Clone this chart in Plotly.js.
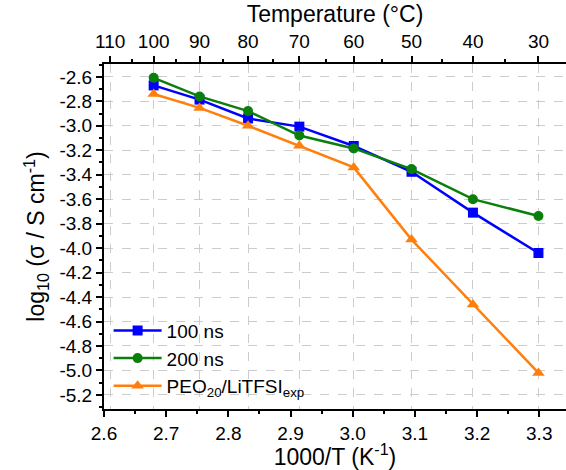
<!DOCTYPE html>
<html>
<head>
<meta charset="utf-8">
<script src="https://cdn.plot.ly/plotly-3.0.1.min.js"></script>
<style>html,body{margin:0;padding:0;background:#fff;}#chart{width:566px;height:470px;}</style>
</head>
<body>
<div id="chart"></div>
<script>
// Data
const temperaturesC = [100, 90, 80, 70, 60, 50, 40, 30];
const sim100ns = [-2.67, -2.786, -2.94, -3.007, -3.165, -3.376, -3.71, -4.04];
const sim200ns = [-2.608, -2.76, -2.88, -3.08, -3.185, -3.354, -3.60, -3.737];
const peoExp = [-2.74, -2.854, -3.0, -3.163, -3.34, -3.93, -4.46, -5.02];
const topTickTemps = [110, 100, 90, 80, 70, 60, 50, 40, 30];
const topMinorTemps = [105, 95, 85, 75, 65, 55, 45, 35];

const invT = t => 1000 / (t + 273.15);
const xVals = temperaturesC.map(invT);

const font = 'Liberation Sans, Arial, sans-serif';
const xRange = [2.6, 3.343];

const traces = [
  {x: xVals, y: sim100ns, name: '100 ns', mode: 'lines+markers',
   line: {color: '#0000ff', width: 2.5}, marker: {symbol: 'square', size: 10, color: '#0000ff'}},
  {x: xVals, y: sim200ns, name: '200 ns', mode: 'lines+markers',
   line: {color: '#0a800a', width: 2.5}, marker: {symbol: 'circle', size: 10, color: '#0a800a'}},
  {x: xVals, y: peoExp, name: 'PEO<sub>20</sub>/LiTFSI<sub>exp</sub>', mode: 'lines+markers',
   line: {color: '#ff7f0e', width: 2.5}, marker: {symbol: 'triangle-up', size: 11, color: '#ff7f0e'}},
  {x: [xRange[0]], y: [null], xaxis: 'x2', showlegend: false, hoverinfo: 'skip', mode: 'markers'}
];

const layout = {
  width: 566, height: 470,
  margin: {l: 104, r: 0, t: 64, b: 61},
  paper_bgcolor: '#fff', plot_bgcolor: '#fff',
  font: {family: font, size: 19, color: '#000'},
  showlegend: true,
  legend: {x: 0.01, y: 0.01, xanchor: 'left', yanchor: 'bottom', bgcolor: 'rgba(0,0,0,0)',
           font: {size: 19, family: font}, tracegroupgap: 0, itemwidth: 48},
  xaxis: {
    range: xRange, tickmode: 'array', tickvals: [2.6, 2.7, 2.8, 2.9, 3.0, 3.1, 3.2, 3.3],
    ticktext: ['2.6', '2.7', '2.8', '2.9', '3.0', '3.1', '3.2', '3.3'],
    ticks: 'outside', ticklen: 6, tickwidth: 2, tickcolor: '#000',
    minor: {tickmode: 'array', tickvals: [2.65, 2.75, 2.85, 2.95, 3.05, 3.15, 3.25], ticks: 'outside', ticklen: 3, tickwidth: 2, tickcolor: '#000'},
    showline: true, linewidth: 2, linecolor: '#000', showgrid: false, zeroline: false,
    title: {text: '1000/T (K<sup>-1</sup>)', font: {size: 23, family: font}, standoff: 2},
    tickfont: {size: 19, family: font}
  },
  xaxis2: {
    overlaying: 'x', side: 'top', range: xRange, tickmode: 'array',
    tickvals: topTickTemps.map(invT), ticktext: topTickTemps.map(String),
    ticks: 'outside', ticklen: 6, tickwidth: 2, tickcolor: '#000',
    minor: {tickmode: 'array', tickvals: topMinorTemps.map(invT), ticks: 'outside', ticklen: 3, tickwidth: 2, tickcolor: '#000'},
    showline: true, linewidth: 2, linecolor: '#000',
    showgrid: true, gridcolor: '#cccccc', griddash: 'dash', gridwidth: 1, zeroline: false,
    title: {text: 'Temperature (°C)', font: {size: 23, family: font}, standoff: 2},
    tickfont: {size: 19, family: font}
  },
  yaxis: {
    range: [-5.315, -2.495], tickmode: 'array',
    tickvals: [-2.6, -2.8, -3.0, -3.2, -3.4, -3.6, -3.8, -4.0, -4.2, -4.4, -4.6, -4.8, -5.0, -5.2],
    ticktext: ['-2.6', '-2.8', '-3.0', '-3.2', '-3.4', '-3.6', '-3.8', '-4.0', '-4.2', '-4.4', '-4.6', '-4.8', '-5.0', '-5.2'],
    ticks: 'outside', ticklen: 6, tickwidth: 2, tickcolor: '#000',
    minor: {tickmode: 'array', tickvals: [-2.5, -2.7, -2.9, -3.1, -3.3, -3.5, -3.7, -3.9, -4.1, -4.3, -4.5, -4.7, -4.9, -5.1, -5.3], ticks: 'outside', ticklen: 3, tickwidth: 2, tickcolor: '#000'},
    showline: true, linewidth: 2, linecolor: '#000',
    showgrid: true, gridcolor: '#cccccc', griddash: 'dash', gridwidth: 1, zeroline: false,
    title: {text: 'log<sub>10</sub> (σ / S cm<sup>-1</sup>)', font: {size: 23, family: font}, standoff: 8},
    tickfont: {size: 19, family: font}
  }
};

Plotly.newPlot('chart', traces, layout, {displayModeBar: false, staticPlot: true});
</script>
</body>
</html>
